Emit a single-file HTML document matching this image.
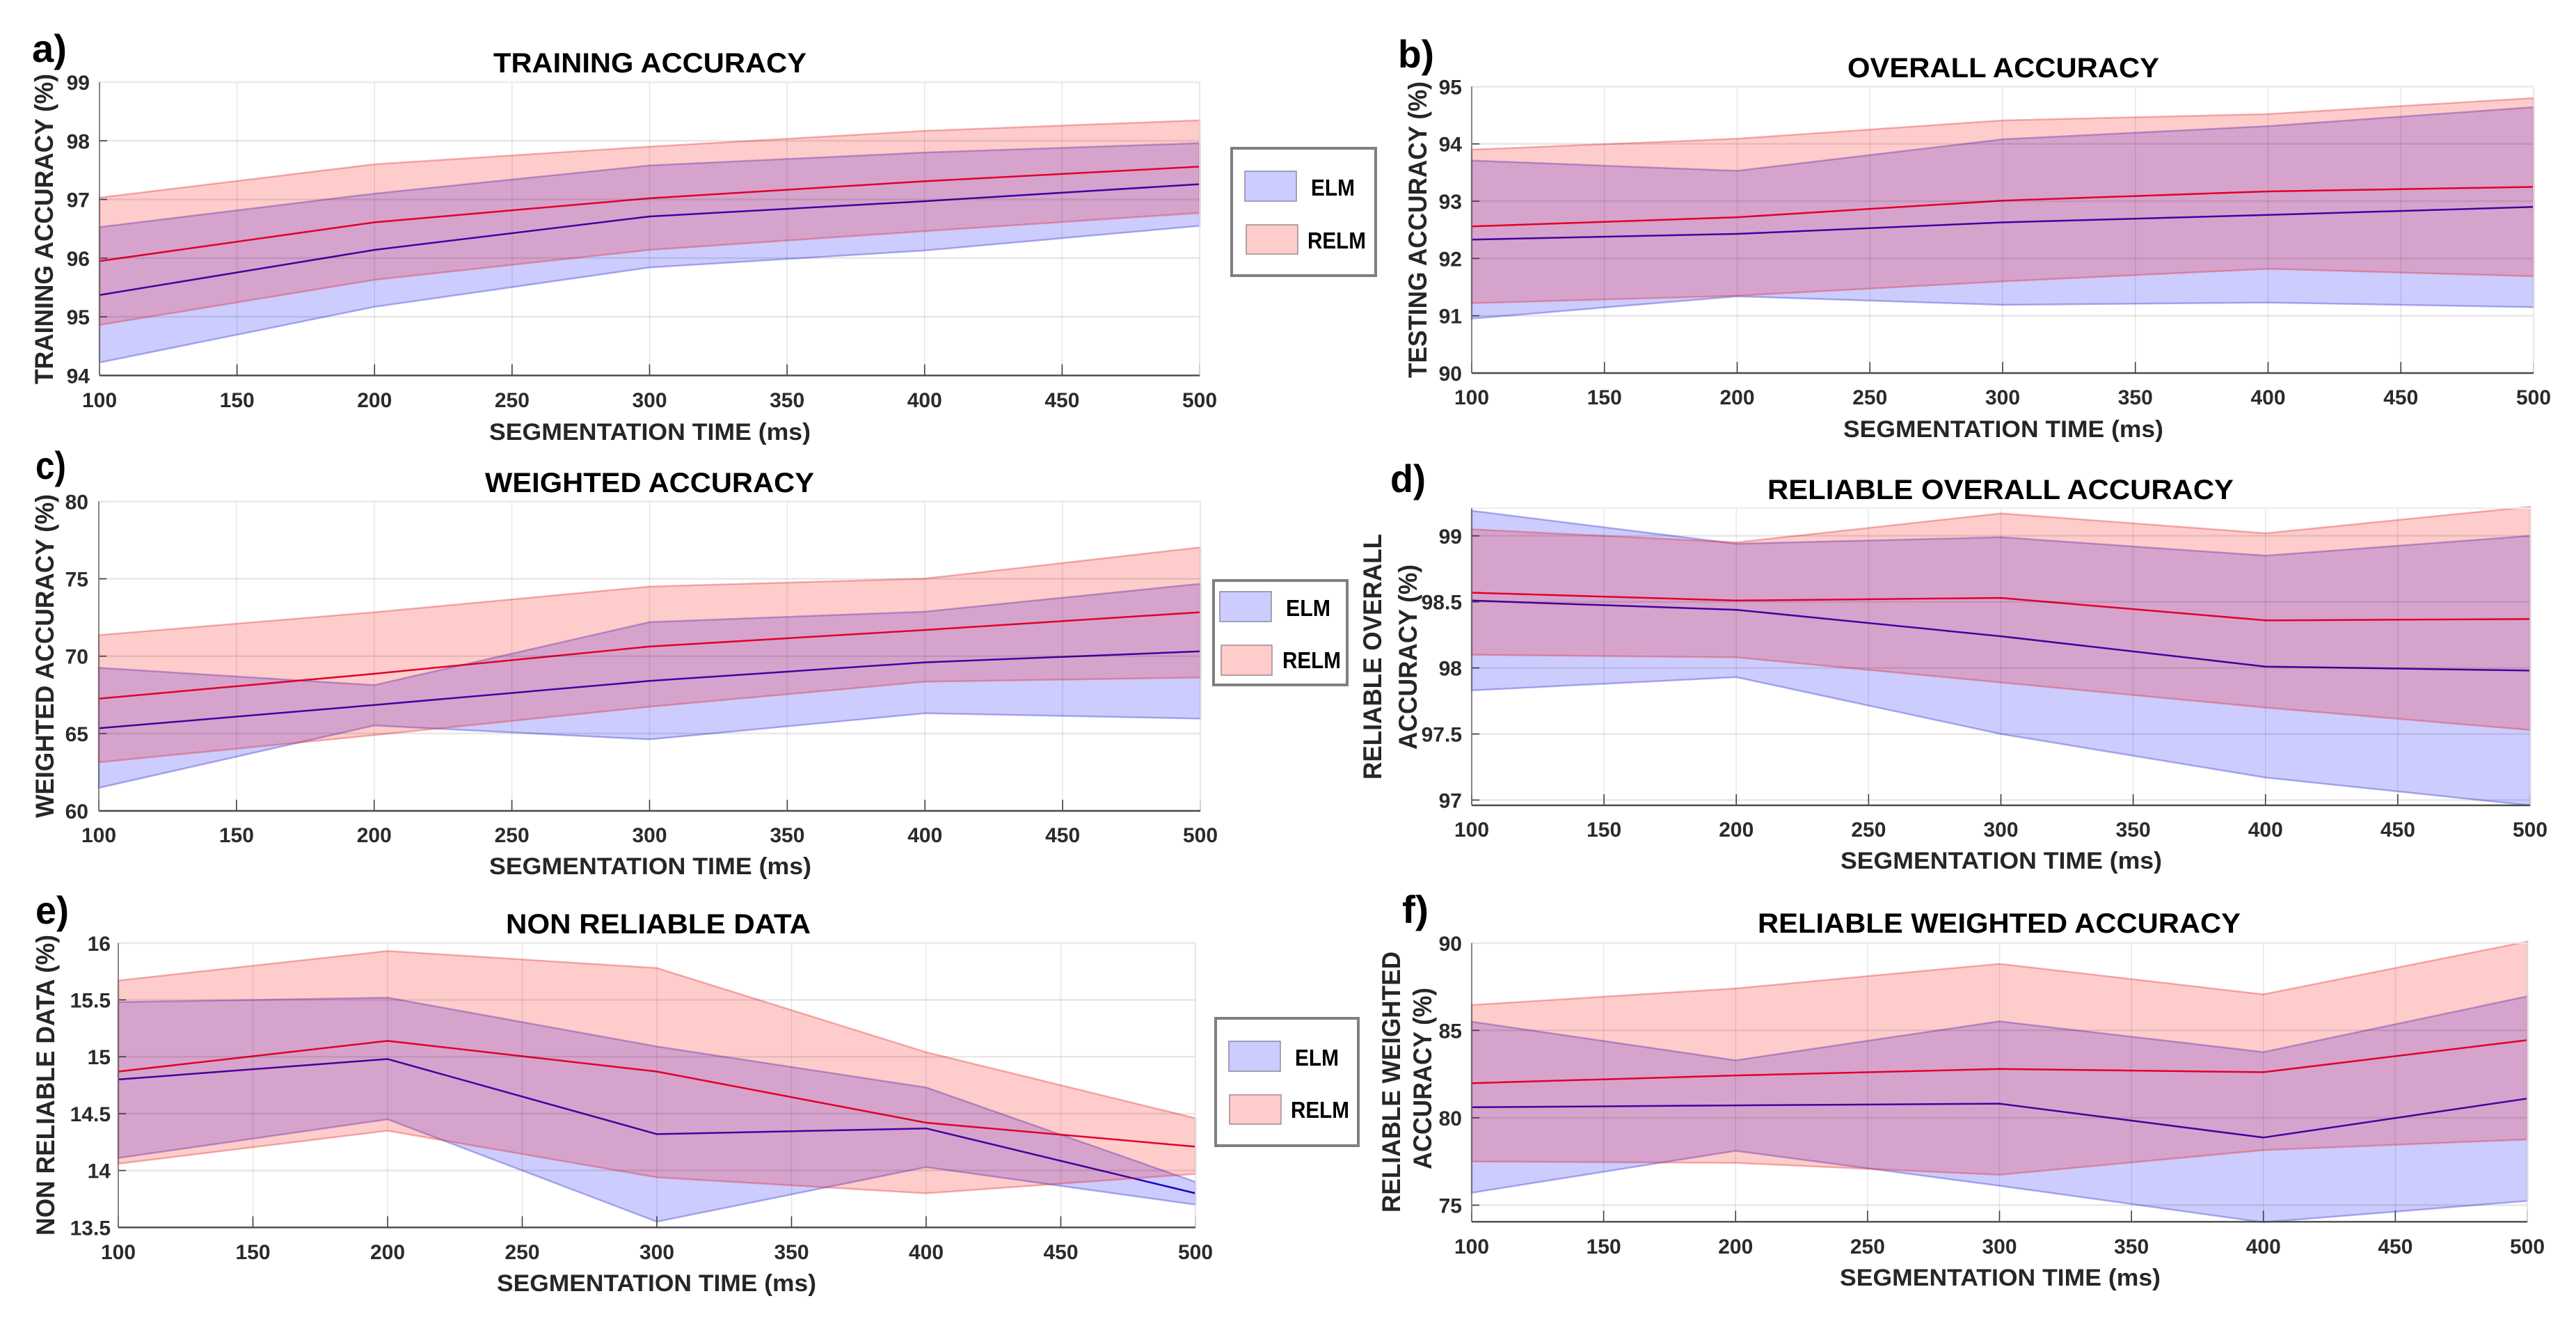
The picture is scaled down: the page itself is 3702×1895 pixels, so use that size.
<!DOCTYPE html>
<html lang="en">
<head>
<meta charset="utf-8">
<title>ELM vs RELM accuracy charts</title>
<style>
html,body{margin:0;padding:0;background:#fff;width:3702px;height:1895px;overflow:hidden}
svg{display:block;font-family:"Liberation Sans",sans-serif}
.ptitle{font-size:40px;font-weight:bold;fill:#000}
.xtitle{font-size:34px;font-weight:bold;fill:#262626}
.ytitle{font-size:37px;font-weight:bold;fill:#262626}
.plabel{font-size:56px;font-weight:bold;fill:#000}
.legtext{font-size:33px;font-weight:bold;fill:#000}
.tick{font-size:30px;font-weight:bold;fill:#2b2b2b}
.legbox{fill:#fff;stroke:#7f7f7f;stroke-width:4}
.swe{fill:#ccccff;stroke:#8a8aa0;stroke-width:1.5}
.swr{fill:#ffcccc;stroke:#a08a8a;stroke-width:1.5}
</style>
</head>
<body>
<svg id="figure" xmlns="http://www.w3.org/2000/svg" width="3702" height="1895" viewBox="0 0 3702 1895">
  <rect x="0" y="0" width="3702" height="1895" fill="#fff"/>

  <g id="panel-a"></g>
  <g id="panel-b"></g>
  <g id="panel-c"></g>
  <g id="panel-d"></g>
  <g id="panel-e"></g>
  <g id="panel-f"></g>

  <!-- panel letters -->
  <text class="plabel" x="46" y="89" textLength="50" lengthAdjust="spacingAndGlyphs">a)</text>
  <text class="plabel" x="2009" y="97" textLength="52" lengthAdjust="spacingAndGlyphs">b)</text>
  <text class="plabel" x="51" y="688" textLength="44" lengthAdjust="spacingAndGlyphs">c)</text>
  <text class="plabel" x="1998" y="707" textLength="51" lengthAdjust="spacingAndGlyphs">d)</text>
  <text class="plabel" x="51" y="1327" textLength="48" lengthAdjust="spacingAndGlyphs">e)</text>
  <text class="plabel" x="2015" y="1326" textLength="38" lengthAdjust="spacingAndGlyphs">f)</text>

  <!-- chart titles -->
  <text class="ptitle" x="709" y="104" textLength="450" lengthAdjust="spacingAndGlyphs">TRAINING ACCURACY</text>
  <text class="ptitle" x="2655" y="111" textLength="448" lengthAdjust="spacingAndGlyphs">OVERALL ACCURACY</text>
  <text class="ptitle" x="697" y="707" textLength="473" lengthAdjust="spacingAndGlyphs">WEIGHTED ACCURACY</text>
  <text class="ptitle" x="2540" y="717" textLength="670" lengthAdjust="spacingAndGlyphs">RELIABLE OVERALL ACCURACY</text>
  <text class="ptitle" x="727" y="1341" textLength="438" lengthAdjust="spacingAndGlyphs">NON RELIABLE DATA</text>
  <text class="ptitle" x="2526" y="1340" textLength="694" lengthAdjust="spacingAndGlyphs">RELIABLE WEIGHTED ACCURACY</text>

  <!-- x axis titles -->
  <text class="xtitle" x="703" y="632" textLength="462" lengthAdjust="spacingAndGlyphs">SEGMENTATION TIME (ms)</text>
  <text class="xtitle" x="2649" y="628" textLength="460" lengthAdjust="spacingAndGlyphs">SEGMENTATION TIME (ms)</text>
  <text class="xtitle" x="703" y="1256" textLength="463" lengthAdjust="spacingAndGlyphs">SEGMENTATION TIME (ms)</text>
  <text class="xtitle" x="2645" y="1248" textLength="462" lengthAdjust="spacingAndGlyphs">SEGMENTATION TIME (ms)</text>
  <text class="xtitle" x="714" y="1855" textLength="459" lengthAdjust="spacingAndGlyphs">SEGMENTATION TIME (ms)</text>
  <text class="xtitle" x="2644" y="1847" textLength="461" lengthAdjust="spacingAndGlyphs">SEGMENTATION TIME (ms)</text>

  <!-- y axis titles -->
  <text class="ytitle" transform="translate(76,552) rotate(-90)" textLength="446" lengthAdjust="spacingAndGlyphs">TRAINING ACCURACY (%)</text>
  <text class="ytitle" transform="translate(2050,543) rotate(-90)" textLength="426" lengthAdjust="spacingAndGlyphs">TESTING ACCURACY (%)</text>
  <text class="ytitle" transform="translate(77,1175) rotate(-90)" textLength="465" lengthAdjust="spacingAndGlyphs">WEIGHTED ACCURACY (%)</text>
  <text class="ytitle" transform="translate(1985,1120) rotate(-90)" textLength="353" lengthAdjust="spacingAndGlyphs">RELIABLE OVERALL</text>
  <text class="ytitle" transform="translate(2036,1077) rotate(-90)" textLength="266" lengthAdjust="spacingAndGlyphs">ACCURACY (%)</text>
  <text class="ytitle" transform="translate(78,1775) rotate(-90)" textLength="432" lengthAdjust="spacingAndGlyphs">NON RELIABLE DATA (%)</text>
  <text class="ytitle" transform="translate(2012,1742) rotate(-90)" textLength="375" lengthAdjust="spacingAndGlyphs">RELIABLE WEIGHTED</text>
  <text class="ytitle" transform="translate(2057,1680) rotate(-90)" textLength="261" lengthAdjust="spacingAndGlyphs">ACCURACY (%)</text>

  <!-- legends -->
  <g>
    <rect class="legbox" x="1770" y="213" width="207" height="183"/>
    <rect class="swe" x="1789" y="246" width="74" height="43"/>
    <text class="legtext" x="1884" y="281" textLength="63" lengthAdjust="spacingAndGlyphs">ELM</text>
    <rect class="swr" x="1791" y="323" width="74" height="42"/>
    <text class="legtext" x="1879" y="357" textLength="84" lengthAdjust="spacingAndGlyphs">RELM</text>
  </g>
  <g>
    <rect class="legbox" x="1744" y="834" width="192" height="150"/>
    <rect class="swe" x="1753" y="850" width="74" height="43"/>
    <text class="legtext" x="1848" y="885" textLength="64" lengthAdjust="spacingAndGlyphs">ELM</text>
    <rect class="swr" x="1755" y="927" width="73" height="43"/>
    <text class="legtext" x="1843" y="960" textLength="84" lengthAdjust="spacingAndGlyphs">RELM</text>
  </g>
  <g>
    <rect class="legbox" x="1747" y="1463" width="205" height="183"/>
    <rect class="swe" x="1766" y="1496" width="74" height="43"/>
    <text class="legtext" x="1861" y="1531" textLength="63" lengthAdjust="spacingAndGlyphs">ELM</text>
    <rect class="swr" x="1767" y="1573" width="74" height="42"/>
    <text class="legtext" x="1855" y="1606" textLength="84" lengthAdjust="spacingAndGlyphs">RELM</text>
  </g>
</svg>

<script>
// Shared axis values
const xCategories = [100, 200, 300, 400, 500];
const xTickValues = [100, 150, 200, 250, 300, 350, 400, 450, 500];

// a) Training accuracy
const aYTicks = [94, 95, 96, 97, 98, 99];
const aElmUpper = [96.53, 97.10, 97.58, 97.80, 97.96];
const aElmMean = [95.37, 96.14, 96.71, 96.97, 97.26];
const aElmLower = [94.22, 95.17, 95.84, 96.13, 96.55];
const aRelmUpper = [97.03, 97.60, 97.90, 98.17, 98.35];
const aRelmMean = [95.95, 96.61, 97.02, 97.31, 97.56];
const aRelmLower = [94.86, 95.63, 96.14, 96.46, 96.77];

// b) Overall accuracy
const bYTicks = [90, 91, 92, 93, 94, 95];
const bElmUpper = [93.71, 93.53, 94.08, 94.31, 94.64];
const bElmMean = [92.33, 92.43, 92.63, 92.76, 92.90];
const bElmLower = [90.95, 91.34, 91.19, 91.23, 91.15];
const bRelmUpper = [93.90, 94.09, 94.41, 94.52, 94.80];
const bRelmMean = [92.56, 92.72, 93.01, 93.17, 93.25];
const bRelmLower = [91.22, 91.35, 91.60, 91.82, 91.69];

// c) Weighted accuracy
const cYTicks = [60, 65, 70, 75, 80];
const cElmUpper = [69.25, 68.13, 72.20, 72.88, 74.68];
const cElmMean = [65.34, 66.84, 68.40, 69.60, 70.31];
const cElmLower = [61.49, 65.52, 64.62, 66.31, 65.96];
const cRelmUpper = [71.36, 72.84, 74.50, 75.01, 77.03];
const cRelmMean = [67.25, 68.86, 70.62, 71.69, 72.84];
const cRelmLower = [63.14, 64.90, 66.73, 68.35, 68.62];

// d) Reliable overall accuracy
const dYTicks = [97, 97.5, 98, 98.5, 99];
const dElmUpper = [99.19, 98.94, 98.99, 98.85, 99.00];
const dElmMean = [98.51, 98.44, 98.24, 98.01, 97.98];
const dElmLower = [97.83, 97.93, 97.50, 97.17, 96.96];
const dRelmUpper = [99.05, 98.95, 99.17, 99.02, 99.22];
const dRelmMean = [98.57, 98.51, 98.53, 98.36, 98.37];
const dRelmLower = [98.10, 98.08, 97.89, 97.70, 97.53];

// e) Non reliable data
const eYTicks = [13.5, 14, 14.5, 15, 15.5, 16];
const eElmUpper = [15.48, 15.52, 15.09, 14.73, 13.90];
const eElmMean = [14.80, 14.98, 14.32, 14.37, 13.80];
const eElmLower = [14.11, 14.45, 13.55, 14.03, 13.70];
const eRelmUpper = [15.67, 15.93, 15.78, 15.04, 14.46];
const eRelmMean = [14.87, 15.14, 14.87, 14.42, 14.21];
const eRelmLower = [14.06, 14.35, 13.94, 13.80, 13.97];

// f) Reliable weighted accuracy
const fYTicks = [75, 80, 85, 90];
const fElmUpper = [85.50, 83.29, 85.52, 83.76, 86.95];
const fElmMean = [80.60, 80.71, 80.81, 78.87, 81.10];
const fElmLower = [75.71, 78.11, 76.11, 74.02, 75.24];
const fRelmUpper = [86.45, 87.40, 88.81, 87.06, 90.08];
const fRelmMean = [81.98, 82.42, 82.79, 82.61, 84.44];
const fRelmLower = [77.50, 77.42, 76.74, 78.15, 78.76];

const SVG_NS = 'http://www.w3.org/2000/svg';

function make(tag, parent, attrs) {
  const node = document.createElementNS(SVG_NS, tag);
  for (const k in attrs) node.setAttribute(k, attrs[k]);
  parent.appendChild(node);
  return node;
}

function linearScale(d0, d1, r0, r1) {
  return function (v) { return r0 + (v - d0) * (r1 - r0) / (d1 - d0); };
}

function drawPanel(p) {
  const g = document.getElementById(p.id);
  const sx = linearScale(100, 500, p.left, p.right);
  const sy = linearScale(p.yMin, p.yMax, p.bottom, p.top);

  function linePath(values) {
    return values.map(function (v, i) {
      return (i ? 'L' : 'M') + sx(xCategories[i]).toFixed(1) + ' ' + sy(v).toFixed(1);
    }).join(' ');
  }
  function bandPath(upper, lower) {
    const back = lower.slice().reverse().map(function (v, i) {
      return 'L' + sx(xCategories[xCategories.length - 1 - i]).toFixed(1) + ' ' + sy(v).toFixed(1);
    }).join(' ');
    return linePath(upper) + ' ' + back + ' Z';
  }

  const elmBand = make('path', g, { d: bandPath(p.elmUpper, p.elmLower), fill: 'rgba(0,0,255,0.2)', stroke: 'rgba(40,40,200,0.35)', 'stroke-width': 2.5 });
  
  

  const elmLine = make('path', g, { d: linePath(p.elmMean), fill: 'none', stroke: '#1400c8', 'stroke-width': 2.5 });
  
  

  const relmBand = make('path', g, { d: bandPath(p.relmUpper, p.relmLower), fill: 'rgba(255,0,0,0.2)', stroke: 'rgba(220,40,40,0.35)', 'stroke-width': 2.5 });
  
  

  const relmLine = make('path', g, { d: linePath(p.relmMean), fill: 'none', stroke: '#e0002a', 'stroke-width': 2.5 });
  
  

  xTickValues.forEach(function (t) {
    const x = sx(t);
    const grid = make('line', g, { x1: x, x2: x, y1: p.top, y2: p.bottom, stroke: 'rgba(0,0,0,0.09)', 'stroke-width': 1.6 });
    
    

    const tick = make('line', g, { x1: x, x2: x, y1: p.bottom - 16, y2: p.bottom, stroke: '#404040', 'stroke-width': 1.6 });
    
    

    const label = make('text', g, { x: x, y: p.xLabelY, 'text-anchor': 'middle', class: 'tick' });
    
    
    label.textContent = String(t);
  });

  p.yTicks.forEach(function (t) {
    const y = sy(t);
    const grid = make('line', g, { x1: p.left, x2: p.right, y1: y, y2: y, stroke: 'rgba(0,0,0,0.09)', 'stroke-width': 2.6 });
    
    

    const tick = make('line', g, { x1: p.left, x2: p.left + 11, y1: y, y2: y, stroke: '#404040', 'stroke-width': 1.6 });
    
    

    const label = make('text', g, { x: p.yLabelX, y: y + 11, 'text-anchor': 'end', class: 'tick' });
    
    
    label.textContent = String(t);
  });

  const frameTop = make('line', g, { x1: p.left, x2: p.right, y1: p.top, y2: p.top, stroke: '#ececec', 'stroke-width': 2 });
  
  

  const frameRight = make('line', g, { x1: p.right, x2: p.right, y1: p.top, y2: p.bottom, stroke: '#e4e4e4', 'stroke-width': 1.6 });
  
  

  const xAxis = make('line', g, { x1: p.left, x2: p.right, y1: p.bottom, y2: p.bottom, stroke: '#4a4a4a', 'stroke-width': 2.4 });
  
  

  const yAxis = make('line', g, { x1: p.left, x2: p.left, y1: p.top, y2: p.bottom, stroke: '#6a6a6a', 'stroke-width': 1.6 });
  
  
}

drawPanel({ id: 'panel-a', left: 143, right: 1724, top: 118, bottom: 539.4, yMin: 94, yMax: 99, xLabelY: 585, yLabelX: 129, yTicks: aYTicks,
  elmUpper: aElmUpper, elmMean: aElmMean, elmLower: aElmLower, relmUpper: aRelmUpper, relmMean: aRelmMean, relmLower: aRelmLower });
drawPanel({ id: 'panel-b', left: 2115, right: 3641, top: 124.4, bottom: 536, yMin: 90, yMax: 95, xLabelY: 581, yLabelX: 2101, yTicks: bYTicks,
  elmUpper: bElmUpper, elmMean: bElmMean, elmLower: bElmLower, relmUpper: bRelmUpper, relmMean: bRelmMean, relmLower: bRelmLower });
drawPanel({ id: 'panel-c', left: 142, right: 1725, top: 720.4, bottom: 1165, yMin: 60, yMax: 80, xLabelY: 1210, yLabelX: 127, yTicks: cYTicks,
  elmUpper: cElmUpper, elmMean: cElmMean, elmLower: cElmLower, relmUpper: cRelmUpper, relmMean: cRelmMean, relmLower: cRelmLower });
drawPanel({ id: 'panel-d', left: 2115, right: 3636, top: 730, bottom: 1157, yMin: 96.96, yMax: 99.21, xLabelY: 1202, yLabelX: 2101, yTicks: dYTicks,
  elmUpper: dElmUpper, elmMean: dElmMean, elmLower: dElmLower, relmUpper: dRelmUpper, relmMean: dRelmMean, relmLower: dRelmLower });
drawPanel({ id: 'panel-e', left: 170, right: 1718, top: 1354.8, bottom: 1763.4, yMin: 13.5, yMax: 16, xLabelY: 1809, yLabelX: 159, yTicks: eYTicks,
  elmUpper: eElmUpper, elmMean: eElmMean, elmLower: eElmLower, relmUpper: eRelmUpper, relmMean: eRelmMean, relmLower: eRelmLower });
drawPanel({ id: 'panel-f', left: 2115, right: 3632, top: 1354.8, bottom: 1755.3, yMin: 74.05, yMax: 90, xLabelY: 1801, yLabelX: 2101, yTicks: fYTicks,
  elmUpper: fElmUpper, elmMean: fElmMean, elmLower: fElmLower, relmUpper: fRelmUpper, relmMean: fRelmMean, relmLower: fRelmLower });
</script>
</body>
</html>
